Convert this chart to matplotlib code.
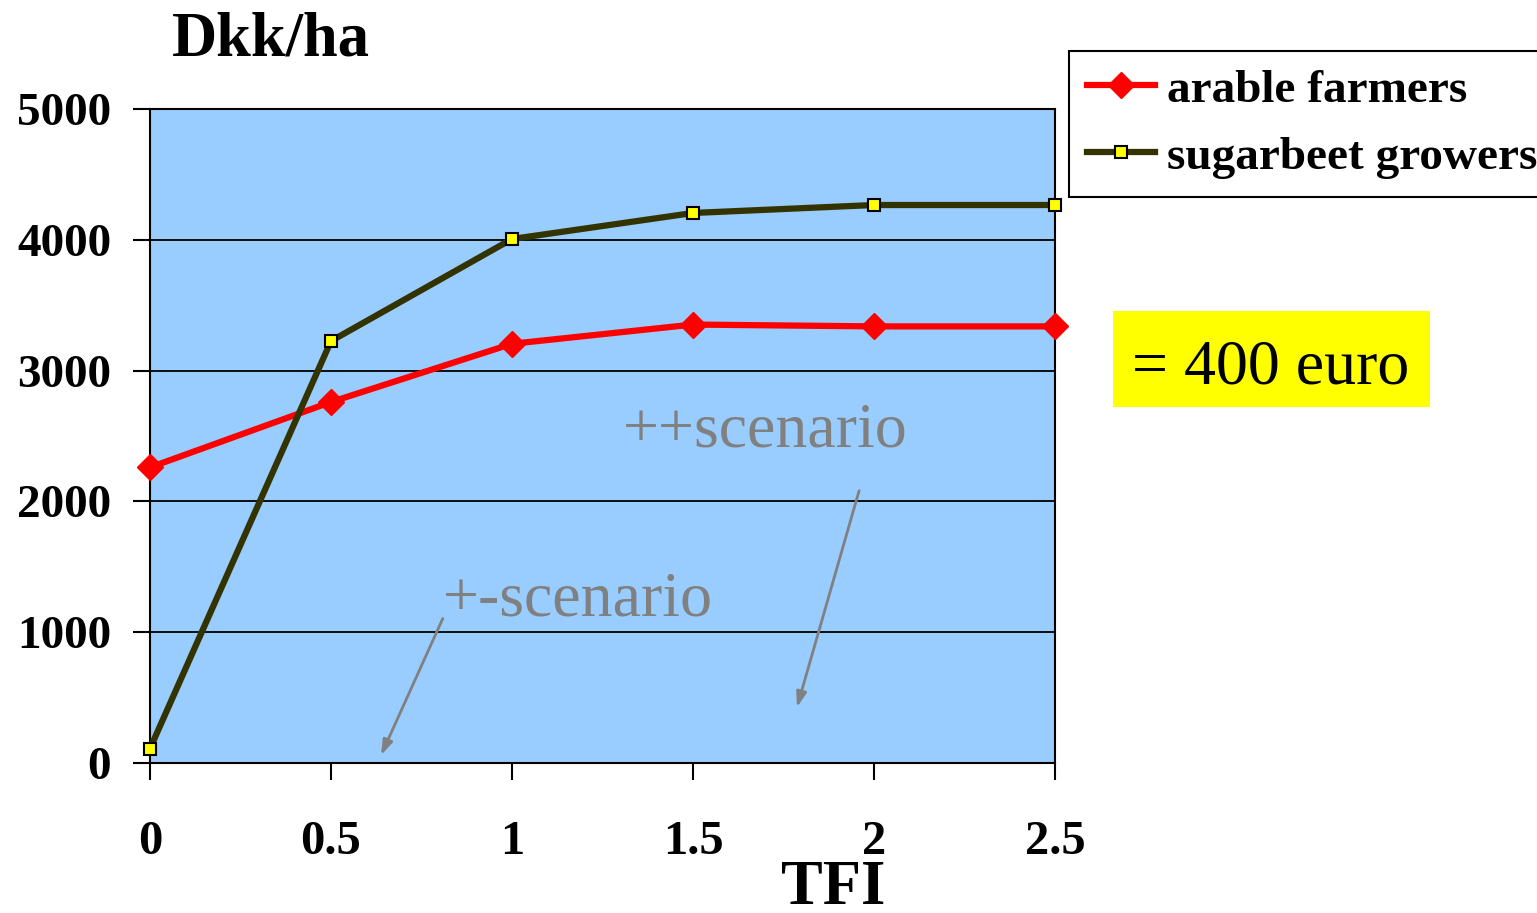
import matplotlib
matplotlib.use("Agg")
import matplotlib.pyplot as plt
from matplotlib.patches import Rectangle

# === Data ===
tfi = [0, 0.5, 1, 1.5, 2, 2.5]
arable_farmers = [2260, 2760, 3205, 3352, 3338, 3338]
sugarbeet_growers = [110, 3226, 4006, 4205, 4266, 4266]
y_ticks = [0, 1000, 2000, 3000, 4000, 5000]
x_tick_labels = ["0", "0.5", "1", "1.5", "2", "2.5"]

W, H = 1537, 913
plt.rcParams['font.family'] = ['Liberation Serif', 'DejaVu Serif']

fig = plt.figure(figsize=(W / 100, H / 100), dpi=100)
ax = fig.add_axes([150 / W, 1 - 763 / H, (1055 - 150) / W, (763 - 109) / H])
ax.set_facecolor('#99CCFF')

# === Series ===
ax.plot(tfi, arable_farmers, color='#FF0000', linewidth=4.5, marker='D',
        markersize=13, markeredgecolor='#FF0000', label='arable farmers',
        clip_on=False, zorder=4)
ax.plot(tfi, sugarbeet_growers, color='#333300', linewidth=4.5, marker='s',
        markersize=8, markerfacecolor='#FFFF00', markeredgecolor='black',
        markeredgewidth=1.5, label='sugarbeet growers', clip_on=False, zorder=5)

# === Axes ===
ax.set_xlim(0, 2.5)
ax.set_ylim(0, 5000)
ax.set_yticks(y_ticks)
ax.set_yticklabels([str(v) for v in y_ticks], fontsize=34, fontweight='bold')
ax.set_xticks(tfi)
ax.set_xticklabels(x_tick_labels, fontsize=35, fontweight='bold')
ax.tick_params(axis='y', direction='out', length=12, width=1.5, pad=16)
ax.tick_params(axis='x', direction='out', length=12, width=1.5, pad=29)
ax.yaxis.grid(True, color='black', linewidth=1.3)
ax.set_axisbelow(True)
for side in ['left', 'bottom', 'top', 'right']:
    ax.spines[side].set_linewidth(1.5)
    ax.spines[side].set_color('black')

# === Titres ===
fig.text(172 / W, 1 - 55 / H, "Dkk/ha", fontsize=45, fontweight='bold',
         ha='left', va='baseline')
fig.text(833 / W, 1 - 904 / H, "TFI", fontsize=45, fontweight='bold',
         ha='center', va='baseline')

# === Scenario annotations ===
ax.annotate("", xy=(0.635, 40), xytext=(0.812, 1124),
            arrowprops=dict(arrowstyle='-|>,head_length=0.9,head_width=0.3',
                            color='#808080', linewidth=2))
ax.annotate("", xy=(1.785, 405), xytext=(1.961, 2102),
            arrowprops=dict(arrowstyle='-|>,head_length=0.9,head_width=0.3',
                            color='#808080', linewidth=2))
ax.text(0.809, 1124, "+-scenario", fontsize=46, color='#808080',
        ha='left', va='baseline')
ax.text(1.307, 2416, "++scenario", fontsize=46, color='#808080',
        ha='left', va='baseline')

# === Yellow box ===
fig.patches.append(Rectangle((1113 / W, 1 - 407 / H), (1430 - 1113) / W, (407 - 311) / H,
                             transform=fig.transFigure, facecolor='#FFFF00',
                             edgecolor='none', zorder=1))
fig.text(1132 / W, 1 - 383 / H, "= 400 euro", fontsize=46, color='black',
         ha='left', va='baseline', zorder=2)

# === Legend ===
leg = ax.legend(loc='upper left', bbox_to_anchor=(1069 / W, 1 - 51 / H),
                bbox_transform=fig.transFigure, borderaxespad=0,
                prop={'size': 34, 'weight': 'bold'}, frameon=True,
                fancybox=False, edgecolor='black', framealpha=1,
                handlelength=1.45, handletextpad=0.25, borderpad=0.38,
                labelspacing=0.5)
leg.get_frame().set_linewidth(1.5)

fig.savefig("out.png", dpi=100)
